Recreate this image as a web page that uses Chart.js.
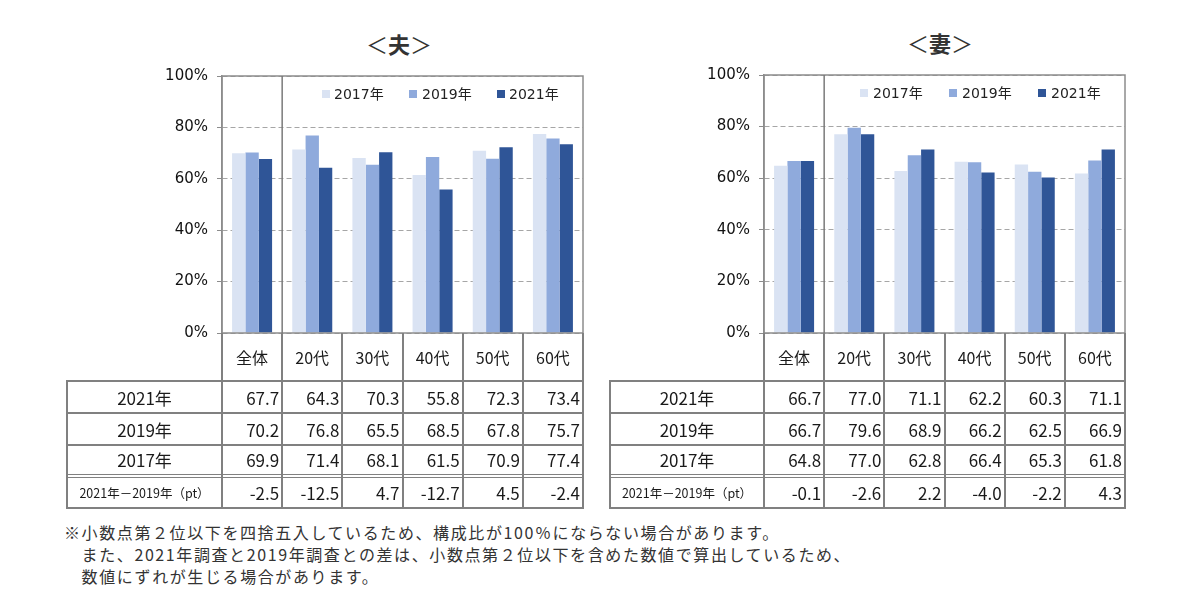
<!DOCTYPE html>
<html lang="ja">
<head>
<meta charset="utf-8">
<title>夫・妻</title>
<script src="https://cdn.jsdelivr.net/npm/chart.js@4"></script>
<style>
  html, body { margin: 0; padding: 0; background: #fff; }
  body { width: 1200px; height: 608px; position: relative; overflow: hidden;
         font-family: "Noto Sans CJK JP", "Noto Sans", sans-serif; color: #222; }
  .abs { position: absolute; }
  .ln { position: absolute; background: #808080; }
  .cell { position: absolute; display: flex; align-items: center; box-sizing: border-box;
          font-size: 17px; white-space: nowrap; color: #1a1a1a; }
  .title { position: absolute; font-size: 22px; transform: translate(-50%, -50%); white-space: nowrap; color: #333; }
  .leg { position: absolute; font-family: "DejaVu Sans", "Noto Sans CJK JP", sans-serif; font-size: 14px; color: #222; white-space: nowrap; }
  .mk { position: absolute; width: 8px; height: 8px; }
  .note { position: absolute; left: 64px; top: 521px; font-size: 16px; letter-spacing: 1.6px; line-height: 22px; color: #333; white-space: nowrap; }
</style>
</head>
<body>
<div class="title" style="left:399px;top:43px">＜<b>夫</b>＞</div>
<div class="title" style="left:940px;top:42px">＜<b>妻</b>＞</div>
<canvas id="chartHusband" class="abs" width="600" height="340" style="left:0;top:0"></canvas>
<canvas id="chartWife" class="abs" width="600" height="340" style="left:600px;top:0"></canvas>
<div class="note">※小数点第２位以下を四捨五入しているため、構成比が100％にならない場合があります。<br>
&#12288;また、2021年調査と2019年調査との差は、小数点第２位以下を含めた数値で算出しているため、<br>
&#12288;数値にずれが生じる場合があります。</div>
<script>
'use strict';

let categories = ['全体', '20代', '30代', '40代', '50代', '60代'];
let seriesNames = ['2017年', '2019年', '2021年'];
let seriesColors = ['#dae3f3', '#8faadc', '#2f5597'];
let yTicks = [0, 20, 40, 60, 80, 100];

let husband2017 = [69.9, 71.4, 68.1, 61.5, 70.9, 77.4];
let husband2019 = [70.2, 76.8, 65.5, 68.5, 67.8, 75.7];
let husband2021 = [67.7, 64.3, 70.3, 55.8, 72.3, 73.4];
let husbandDiff = [-2.5, -12.5, 4.7, -12.7, 4.5, -2.4];

let wife2017 = [64.8, 77.0, 62.8, 66.4, 65.3, 61.8];
let wife2019 = [66.7, 79.6, 68.9, 66.2, 62.5, 66.9];
let wife2021 = [66.7, 77.0, 71.1, 62.2, 60.3, 71.1];
let wifeDiff = [-0.1, -2.6, 2.2, -4.0, -2.2, 4.3];

let diffLabel = '2021年－2019年（pt）';

// frame round the plot and the line after 全体
let framePlugin = {
  id: 'frame',
  afterDatasetsDraw: function (chart) {
    let a = chart.chartArea;
    let c = chart.ctx;
    let xs = chart.scales.x;
    let sep = (xs.getPixelForValue(0) + xs.getPixelForValue(1)) / 2;
    c.save();
    c.strokeStyle = '#8c8c8c';
    c.lineWidth = 1.5;
    c.strokeRect(a.left, a.top, a.right - a.left, a.bottom - a.top);
    c.strokeStyle = '#7a7a7a';
    c.beginPath();
    c.moveTo(sep, a.top);
    c.lineTo(sep, a.bottom);
    c.stroke();
    c.restore();
  }
};

function makeChart(id, data, left, right, top) {
  let ctx = document.getElementById(id).getContext('2d');
  return new Chart(ctx, {
    type: 'bar',
    data: {
      labels: categories,
      datasets: data.map(function (d, i) {
        return {
          label: seriesNames[i],
          data: d,
          backgroundColor: seriesColors[i],
          borderWidth: 0,
          categoryPercentage: 0.665,
          barPercentage: 1.0
        };
      })
    },
    options: {
      responsive: false,
      animation: false,
      devicePixelRatio: 1,
      layout: { padding: { top: top, right: 600 - right, bottom: 340 - 333, left: 0 } },
      plugins: { legend: { display: false }, tooltip: { enabled: false } },
      scales: {
        x: { display: false },
        y: {
          min: 0,
          max: 100,
          afterFit: function (s) {
            s.width = left;
            s.paddingTop = 0;
            s.paddingBottom = 0;
          },
          afterBuildTicks: function (s) { s.ticks = yTicks.map(function (v) { return { value: v }; }); },
          ticks: {
            padding: 9,
            color: '#111',
            font: { family: 'DejaVu Sans', size: 15 },
            callback: function (v) { return v + '%'; }
          },
          grid: { color: '#a6a6a6', lineWidth: 1, tickLength: 5, tickColor: '#8c8c8c', tickBorderDash: [] },
          border: { display: true, color: '#8c8c8c', width: 1.5, dash: [5, 3] }
        }
      }
    },
    plugins: [framePlugin]
  });
}

function addDiv(cls, x, y, w, h, text, extra) {
  let d = document.createElement('div');
  d.className = cls;
  d.style.left = x + 'px';
  d.style.top = y + 'px';
  d.style.width = w + 'px';
  d.style.height = h + 'px';
  if (extra) Object.assign(d.style, extra);
  if (text !== undefined) d.textContent = text;
  document.body.appendChild(d);
  return d;
}

function makeTable(x0, x1, x2, rows) {
  let yTop = 333, yHead = 381, yEnd = 508;
  let rowY = [[381, 413], [413, 445], [445, 474], [477, 508]];
  let colW = (x2 - x1) / categories.length;
  let edges = [];
  for (let i = 0; i <= categories.length; i++) edges.push(x1 + i * colW);

  // lines
  edges.forEach(function (x) { addDiv('ln', x - 1, yTop, 2, yEnd - yTop + 1); });
  addDiv('ln', x0 - 1, yHead - 1, 2, yEnd - yHead + 2);
  [381, 413, 445, 508].forEach(function (y) { addDiv('ln', x0 - 1, y - 1, x2 - x0 + 2, 2); });
  addDiv('ln', x0 - 1, 473.5, x2 - x0 + 2, 1.5);
  addDiv('ln', x0 - 1, 476.5, x2 - x0 + 2, 1.5);

  // header
  categories.forEach(function (c, i) {
    addDiv('cell', edges[i], yTop, colW, yHead - yTop, c, { justifyContent: 'center', fontSize: '16px' });
  });

  // rows
  rows.forEach(function (r, k) {
    let y = rowY[k];
    addDiv('cell', x0, y[0], x1 - x0, y[1] - y[0], r.label,
      { justifyContent: 'center', fontSize: k === 3 ? '12.5px' : '17px' });
    r.values.forEach(function (v, i) {
      addDiv('cell', edges[i], y[0], colW, y[1] - y[0], v.toFixed(1),
        { justifyContent: 'flex-end', paddingRight: '3px' });
    });
  });
}

function makeLegend(marks, texts, y) {
  seriesNames.forEach(function (n, i) {
    addDiv('mk', marks[i], y - 4, 8, 8, undefined, { background: seriesColors[i] });
    addDiv('leg', texts[i], y - 10, 60, 20, n, { lineHeight: '20px' });
  });
}

makeChart('chartHusband', [husband2017, husband2019, husband2021], 222, 583, 76);
makeChart('chartWife', [wife2017, wife2019, wife2021], 164, 525, 75);

makeTable(67, 222, 583, [
  { label: '2021年', values: husband2021 },
  { label: '2019年', values: husband2019 },
  { label: '2017年', values: husband2017 },
  { label: diffLabel, values: husbandDiff }
]);
makeTable(610, 764, 1125, [
  { label: '2021年', values: wife2021 },
  { label: '2019年', values: wife2019 },
  { label: '2017年', values: wife2017 },
  { label: diffLabel, values: wifeDiff }
]);

makeLegend([322, 409, 497], [334, 422, 509], 94);
makeLegend([860, 949, 1038], [873, 962, 1051], 93);
</script>
</body>
</html>
